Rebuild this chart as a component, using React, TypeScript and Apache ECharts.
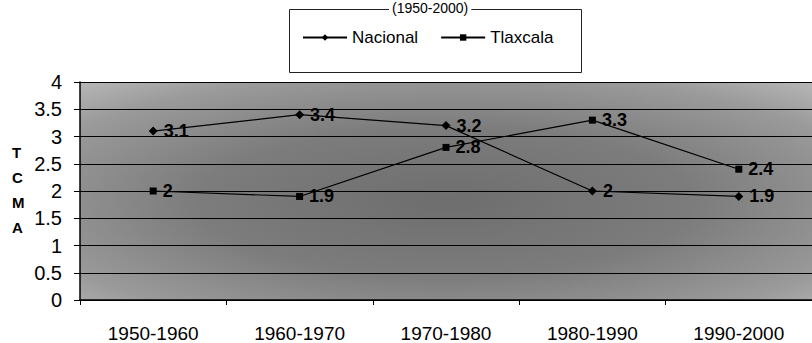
import React, { useEffect, useRef } from "react";
import * as echarts from "echarts";

const categories = ["1950-1960", "1960-1970", "1970-1980", "1980-1990", "1990-2000"];
const nacional = [3.1, 3.4, 3.2, 2.0, 1.9];
const tlaxcala = [2.0, 1.9, 2.8, 3.3, 2.4];
const yMin = 0;
const yMax = 4;
const yStep = 0.5;
const titleText = "(1950-2000)";
const yNameLetters = ["T", "C", "M", "A"];

const FONT = "'Liberation Sans', Arial, sans-serif";

export default function App() {
  const ref = useRef<HTMLDivElement>(null);
  useEffect(() => {
    if (!ref.current) return;
    const chart = echarts.init(ref.current, undefined, { renderer: "svg" });
    const labelStyle = {
      show: true,
      position: "right" as const,
      distance: 6,
      color: "#000",
      fontFamily: FONT,
      fontSize: 18,
      fontWeight: "bold" as const,
    };
    chart.setOption({
      animation: false,
      backgroundColor: "#fff",
      textStyle: { fontFamily: FONT, color: "#000" },
      graphic: [
        {
          type: "rect",
          shape: { x: 289.5, y: 9.5, width: 292, height: 63 },
          style: { fill: "#fff", stroke: "#222", lineWidth: 1 },
          z: 0,
        },
        {
          type: "text",
          left: 389,
          top: 1,
          z: 5,
          style: {
            text: titleText,
            font: `14px ${FONT}`,
            fill: "#000",
            backgroundColor: "#fff",
            padding: [0, 3],
          },
        },
        {
          type: "text",
          left: 12,
          top: 140,
          style: {
            text: yNameLetters.join("\n"),
            font: `bold 15px ${FONT}`,
            lineHeight: 25,
            fill: "#000",
            align: "center",
          },
        },
      ],
      legend: {
        data: ["Nacional", "Tlaxcala"],
        left: 302,
        top: 29,
        itemWidth: 44,
        itemHeight: 8,
        itemGap: 22,
        padding: 0,
        z: 10,
        textStyle: { fontFamily: FONT, fontSize: 17, color: "#000" },
      },
      grid: {
        left: 80,
        top: 82,
        width: 742,
        height: 218,
        show: true,
        borderWidth: 0,
        backgroundColor: {
          type: "radial",
          x: 0.5,
          y: 0.55,
          r: 0.75,
          colorStops: [
            { offset: 0, color: "#6e6e6e" },
            { offset: 0.45, color: "#7c7c7c" },
            { offset: 0.8, color: "#9a9a9a" },
            { offset: 1, color: "#b8b8b8" },
          ],
        },
      },
      xAxis: {
        type: "category",
        data: categories,
        boundaryGap: true,
        axisLine: { show: true, lineStyle: { color: "#000", width: 1.5 } },
        axisTick: { show: true, length: 5, lineStyle: { color: "#000" } },
        axisLabel: { fontFamily: FONT, fontSize: 19, color: "#000", margin: 24 },
      },
      yAxis: {
        type: "value",
        min: yMin,
        max: yMax,
        interval: yStep,
        axisLine: { show: true, lineStyle: { color: "#000", width: 1.5 } },
        axisTick: { show: true, length: 6, lineStyle: { color: "#000" } },
        axisLabel: { fontFamily: FONT, fontSize: 20, color: "#000", margin: 18 },
        splitLine: { show: true, lineStyle: { color: "#000", width: 1 } },
      },
      series: [
        {
          name: "Nacional",
          type: "line",
          data: nacional,
          symbol: "diamond",
          symbolSize: 9,
          lineStyle: { color: "#000", width: 1.2 },
          itemStyle: { color: "#000" },
          label: labelStyle,
        },
        {
          name: "Tlaxcala",
          type: "line",
          data: tlaxcala,
          symbol: "rect",
          symbolSize: 7,
          lineStyle: { color: "#000", width: 1.2 },
          itemStyle: { color: "#000" },
          label: labelStyle,
        },
      ],
    });
    return () => chart.dispose();
  }, []);
  return (
    <div
      ref={ref}
      style={{ position: "fixed", left: 0, top: 0, width: 812, height: 343 }}
    />
  );
}
